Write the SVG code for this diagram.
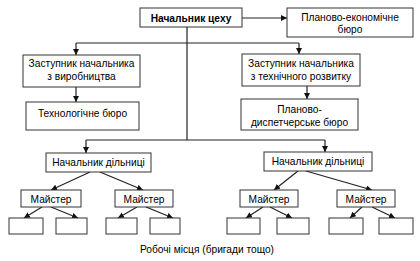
<svg xmlns="http://www.w3.org/2000/svg" width="420" height="261" viewBox="0 0 420 261">
<defs>
<marker id="ah" viewBox="0 0 10 10" refX="10" refY="5" markerWidth="6" markerHeight="6" markerUnits="userSpaceOnUse" orient="auto">
<path d="M0,0 L10,5 L0,10 z" fill="#111"/>
</marker>
<style>
rect{fill:#fff;stroke:#333;stroke-width:1}
text{font-family:"Liberation Sans",Arial,sans-serif;font-size:10.2px;fill:#000;text-anchor:middle}
.b{font-weight:bold}
#connectors line{stroke:#222;stroke-width:1.2;fill:none}
.a{marker-end:url(#ah)}
</style>
</defs>
<rect x="0" y="0" width="420" height="261" style="fill:#fff;stroke:none"/>
<g id="connectors">
<line class="a" x1="242" y1="18" x2="287" y2="18"/>
<line x1="187" y1="27" x2="187" y2="140"/>
<line x1="76" y1="43" x2="299" y2="43"/>
<line class="a" x1="76" y1="43" x2="76" y2="55"/>
<line class="a" x1="299" y1="43" x2="299" y2="54"/>
<line class="a" x1="76" y1="87" x2="76" y2="102"/>
<line class="a" x1="307" y1="86" x2="307" y2="99"/>
<line x1="86" y1="140" x2="325" y2="140"/>
<line class="a" x1="86" y1="140" x2="86" y2="153"/>
<line class="a" x1="325" y1="140" x2="325" y2="152"/>
<line class="a" x1="90" y1="172" x2="51" y2="190"/>
<line class="a" x1="100" y1="172" x2="143" y2="190"/>
<line class="a" x1="298" y1="171" x2="274" y2="190"/>
<line class="a" x1="306" y1="171" x2="372" y2="190"/>
<line class="a" x1="42" y1="207" x2="24" y2="218"/>
<line class="a" x1="51" y1="207" x2="78" y2="218"/>
<line class="a" x1="137" y1="207" x2="118" y2="218"/>
<line class="a" x1="146" y1="207" x2="173" y2="218"/>
<line class="a" x1="263" y1="207" x2="246" y2="218"/>
<line class="a" x1="270" y1="207" x2="292" y2="218"/>
<line class="a" x1="362" y1="207" x2="350" y2="218"/>
<line class="a" x1="372" y1="207" x2="395" y2="218"/>
</g>
<g id="nc"><rect x="140" y="8" width="102" height="19"/><text class="b" x="191" y="21.5">Начальник цеху</text></g>
<g id="peb"><rect x="287" y="8" width="126" height="29"/><text x="350" y="20.5">Планово-економічне</text><text x="350" y="32.5">бюро</text></g>
<g id="zv"><rect x="23" y="55" width="117" height="32"/><text x="81.5" y="67">Заступник начальника</text><text x="81.5" y="79.5">з виробництва</text></g>
<g id="zt"><rect x="242" y="54" width="118" height="32"/><text x="301" y="67">Заступник начальника</text><text x="301" y="79.5">з технічного розвитку</text></g>
<g id="tb"><rect x="26" y="102" width="113" height="28"/><text x="82.5" y="117">Технологічне бюро</text></g>
<g id="pdb"><rect x="241" y="99" width="117" height="31"/><text x="299.5" y="113">Планово-</text><text x="299.5" y="125.5">диспетчерське бюро</text></g>
<g id="nd1"><rect x="46" y="153" width="105" height="19"/><text x="98.5" y="166">Начальник дільниці</text></g>
<g id="nd2"><rect x="264" y="152" width="108" height="19"/><text x="318" y="165">Начальник дільниці</text></g>
<g id="m1"><rect x="21" y="190" width="60" height="17"/><text x="51" y="202.5">Майстер</text></g>
<g id="m2"><rect x="115" y="190" width="58" height="17"/><text x="144" y="202.5">Майстер</text></g>
<g id="m3"><rect x="240" y="190" width="58" height="17"/><text x="269" y="202.5">Майстер</text></g>
<g id="m4"><rect x="337" y="190" width="58" height="17"/><text x="366" y="202.5">Майстер</text></g>
<g id="w1"><rect x="9" y="218" width="34" height="16"/></g>
<g id="w2"><rect x="56" y="218" width="31" height="16"/></g>
<g id="w3"><rect x="106" y="218" width="31" height="16"/></g>
<g id="w4"><rect x="150" y="218" width="30" height="16"/></g>
<g id="w5"><rect x="227" y="218" width="33" height="16"/></g>
<g id="w6"><rect x="277" y="218" width="32" height="16"/></g>
<g id="w7"><rect x="329" y="218" width="34" height="16"/></g>
<g id="w8"><rect x="379" y="218" width="34" height="16"/></g>
<g id="caption"><text x="207" y="253">Робочі місця (бригади тощо)</text></g>
</svg>
